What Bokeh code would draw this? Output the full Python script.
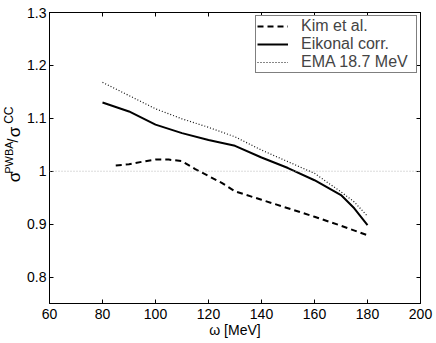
from math import pi
from bokeh.plotting import figure
from bokeh.layouts import row
from bokeh.core.properties import value
from bokeh.models import (FixedTicker, CustomJSTickFormatter, LinearAxis, Range1d,
                          Legend, LegendItem, Span)
from bokeh.embed import file_html
from bokeh.resources import INLINE

# ---- data ----
kim_x = [85, 90, 95, 100, 105, 110, 115, 120, 125, 130, 140, 150, 160, 170, 180]
kim_y = [1.011, 1.013, 1.018, 1.022, 1.022, 1.019, 1.004, 0.991, 0.978, 0.962,
         0.946, 0.930, 0.914, 0.897, 0.879]

eik_x = [80, 90, 100, 110, 120, 130, 140, 150, 160, 170, 175, 180]
eik_y = [1.130, 1.113, 1.088, 1.072, 1.059, 1.048, 1.026, 1.006, 0.983, 0.955,
         0.930, 0.898]

ema_x = [80, 90, 100, 110, 120, 130, 140, 150, 160, 170, 175, 180]
ema_y = [1.168, 1.143, 1.118, 1.099, 1.083, 1.065, 1.040, 1.018, 0.996, 0.961,
         0.942, 0.915]

ref_level = 1.0
x_ticks = [60, 80, 100, 120, 140, 160, 180, 200]
y_ticks = [0.8, 0.9, 1.0, 1.1, 1.2, 1.3]
series_labels = ["Kim et al.", "Eikonal corr.", "EMA 18.7 MeV"]
x_title = "\u03c9 [MeV]"
y_title_parts = ["\u03c3", "PWBA", "/", "\u03c3", "CC"]

FONT = "Liberation Sans"
LAB_W = 22
H = 343

# ---------- narrow strip holding the vertical y-axis title ----------
lab_fig = figure(width=LAB_W, height=H, x_range=Range1d(0, LAB_W), y_range=Range1d(H, 0),
                 output_backend="svg", toolbar_location=None,
                 x_axis_location=None, y_axis_location=None,
                 min_border_left=0, min_border_right=0, min_border_top=0, min_border_bottom=0)
lab_fig.outline_line_color = None
lab_fig.xgrid.visible = False
lab_fig.ygrid.visible = False
lab_fig.background_fill_color = "white"
lab_fig.border_fill_color = "white"

# (x, y, size) of each title part in the strip's pixel frame
part_pos = [(13.5, 194, "17px"), (8, 171, "11px"), (12.5, 151, "14px"),
            (13.5, 141, "17px"), (8, 121, "12px")]
for txt, (tx, ty, ts) in zip(y_title_parts, part_pos):
    lab_fig.text(x=[tx], y=[ty], text=[txt], angle=pi / 2,
                 text_align="center", text_baseline="middle",
                 text_font=value(FONT), text_font_size=ts, text_color="black")

# ---------- main plot ----------
p = figure(width=436 - LAB_W, height=H, x_range=(60, 200), y_range=(0.75, 1.3),
           output_backend="svg", toolbar_location=None,
           min_border_left=49 - LAB_W, min_border_right=16, min_border_top=12,
           min_border_bottom=40)
p.background_fill_color = "white"
p.border_fill_color = "white"
p.outline_line_color = "black"
p.outline_line_alpha = 1.0
p.xgrid.visible = False
p.ygrid.visible = False

ylab_fmt = CustomJSTickFormatter(code="return (Math.round(tick*10)/10).toString();")
blank_fmt = CustomJSTickFormatter(code="return '';")

def style_axis(ax, ticks, labels=True):
    ax.ticker = FixedTicker(ticks=ticks)
    ax.minor_tick_line_color = None
    ax.major_tick_in = 4
    ax.major_tick_out = 0
    ax.major_tick_line_color = "black"
    ax.axis_line_color = "black"
    ax.major_label_text_font = FONT
    ax.major_label_text_font_size = "14px"
    ax.major_label_text_color = "black"
    if not labels:
        ax.formatter = blank_fmt
        ax.major_label_standoff = 0

style_axis(p.xaxis[0], x_ticks)
p.xaxis[0].major_label_standoff = 5
p.xaxis[0].axis_label = x_title
p.xaxis[0].axis_label_standoff = 0
p.xaxis[0].axis_label_text_font = FONT
p.xaxis[0].axis_label_text_font_style = "normal"
p.xaxis[0].axis_label_text_font_size = "14px"
p.xaxis[0].axis_label_text_color = "black"
style_axis(p.yaxis[0], y_ticks)
p.yaxis[0].formatter = ylab_fmt
p.yaxis[0].major_label_standoff = 3

top_ax = LinearAxis()
style_axis(top_ax, x_ticks, labels=False)
p.add_layout(top_ax, "above")
right_ax = LinearAxis()
style_axis(right_ax, y_ticks, labels=False)
p.add_layout(right_ax, "right")

p.add_layout(Span(location=ref_level, dimension="width", line_color="#b8b8b8",
                  line_width=1, line_dash="1 2"))

r_kim = p.line(kim_x, kim_y, line_color="black", line_width=2, line_dash="6 4")
r_eik = p.line(eik_x, eik_y, line_color="black", line_width=2)
r_ema = p.line(ema_x, ema_y, line_color="#111111", line_width=1.2, line_dash="1 2")

legend = Legend(items=[LegendItem(label=series_labels[0], renderers=[r_kim]),
                       LegendItem(label=series_labels[1], renderers=[r_eik]),
                       LegendItem(label=series_labels[2], renderers=[r_ema])],
                location="top_right")
legend.margin = 3
legend.padding = 1
legend.spacing = 0
legend.glyph_width = 31
legend.glyph_height = 16
legend.label_height = 16
legend.label_standoff = 13
legend.label_width = 114
legend.label_text_font = FONT
legend.label_text_font_size = "16px"
legend.border_line_color = "black"
legend.border_line_width = 1
legend.background_fill_alpha = 1.0
p.add_layout(legend)

layout = row(lab_fig, p)
open("out.html", "w").write(file_html(layout, INLINE))
